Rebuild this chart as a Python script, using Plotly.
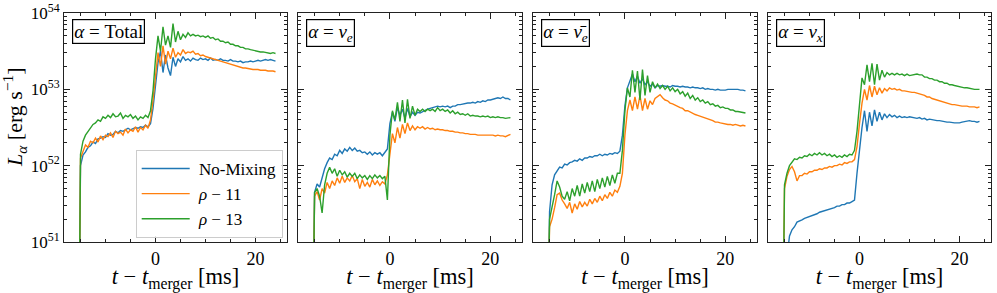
import plotly.graph_objects as go
from plotly.subplots import make_subplots

# time relative to merger [ms]
t_ms = [-16.3, -15.2, -15.0, -14.5, -14.0, -13.5, -13.0, -12.5, -12.0, -11.5, -11.0, -10.5, -10.0, -9.5,
        -9.0, -8.5, -8.0, -7.5, -7.0, -6.5, -6.0, -5.5, -5.0, -4.5, -4.0, -3.5, -3.0, -2.5, -2.0, -1.5,
        -1.0, -0.5, 0.0, 0.5, 1.0, 1.5, 2.0, 2.5, 3.0, 3.5, 4.0, 4.5, 5.0, 5.5, 6.0, 6.5, 7.0, 7.5,
        8.0, 8.5, 9.0, 9.5, 10.0, 10.5, 11.0, 11.5, 12.0, 12.5, 13.0, 13.5, 14.0, 14.5, 15.0, 15.5,
        16.0, 16.5, 17.0, 17.5, 18.0, 18.5, 19.0, 19.5, 20.0, 20.5, 21.0, 21.5, 22.0, 22.5, 23.0, 23.5, 24.0]

# log10 of luminosity [erg/s]
total_nomix = [50.0, 50.5, 52.0, 52.14, 52.18, 52.24, 52.26, 52.31, 52.29, 52.35, 52.36, 52.38, 52.37, 52.42,
               52.4, 52.41, 52.45, 52.43, 52.46, 52.45, 52.47, 52.49, 52.47, 52.48, 52.5, 52.49, 52.51, 52.5, 52.53, 52.51,
               52.55, 52.75, 53.1, 53.35, 53.5, 53.22, 53.45, 53.28, 53.18, 53.42, 53.3, 53.4, 53.36, 53.43, 53.38, 53.4, 53.37, 53.41,
               53.39, 53.38, 53.41, 53.39, 53.4, 53.38, 53.41, 53.38, 53.39, 53.38, 53.4, 53.38, 53.38, 53.37, 53.39, 53.37,
               53.37, 53.36, 53.37, 53.35, 53.36, 53.36, 53.37, 53.36, 53.37, 53.38, 53.37, 53.38, 53.39, 53.38, 53.39, 53.38, 53.37]
total_rho11 = [50.0, 50.5, 52.1, 52.2, 52.27, 52.24, 52.32, 52.3, 52.36, 52.31, 52.39, 52.34, 52.4, 52.38,
               52.43, 52.37, 52.45, 52.42, 52.44, 52.4, 52.48, 52.43, 52.47, 52.45, 52.51, 52.44, 52.5, 52.47, 52.53, 52.49,
               52.6, 52.85, 53.2, 53.48, 53.3, 53.57, 53.33, 53.5, 53.4, 53.54, 53.42, 53.48, 53.45, 53.52, 53.47, 53.49, 53.48, 53.5,
               53.46, 53.47, 53.44, 53.45, 53.43, 53.42, 53.42, 53.41, 53.39, 53.38, 53.37, 53.36, 53.35, 53.34, 53.32, 53.32,
               53.3, 53.3, 53.29, 53.28, 53.28, 53.27, 53.27, 53.26, 53.26, 53.26, 53.25, 53.25, 53.25, 53.24, 53.24, 53.24, 53.23]
total_rho13 = [50.0, 50.5, 52.15, 52.32, 52.4, 52.45, 52.5, 52.54, 52.56, 52.6, 52.58, 52.64, 52.62, 52.66,
               52.63, 52.68, 52.64, 52.65, 52.69, 52.62, 52.66, 52.64, 52.67, 52.62, 52.65, 52.6, 52.64, 52.62, 52.66, 52.63,
               52.72, 52.98, 53.4, 53.7, 53.5, 53.82, 53.58, 53.7, 53.55, 53.86, 53.62, 53.76, 53.65, 53.72, 53.68, 53.74, 53.7, 53.72,
               53.7, 53.71, 53.69, 53.7, 53.68, 53.7, 53.67, 53.68, 53.65, 53.66, 53.63, 53.63, 53.61, 53.62, 53.59, 53.59,
               53.57, 53.57, 53.55, 53.55, 53.53, 53.53, 53.52, 53.51, 53.5, 53.5, 53.49, 53.49, 53.48, 53.48, 53.47, 53.48, 53.47]

nue_nomix = [50.0, 50.5, 51.65, 51.76, 51.72, 51.84, 51.96, 52.04, 52.1, 52.08, 52.15, 52.13, 52.2, 52.16,
             52.22, 52.19, 52.24, 52.2, 52.23, 52.19, 52.2, 52.17, 52.18, 52.15, 52.18, 52.14, 52.17, 52.15, 52.17, 52.13,
             52.17, 52.22, 52.55, 52.7, 52.58, 52.76, 52.66, 52.74, 52.62, 52.75, 52.64, 52.7, 52.66, 52.7, 52.69, 52.71, 52.72, 52.74,
             52.75, 52.76, 52.77, 52.78, 52.77, 52.78, 52.77, 52.78, 52.76, 52.78, 52.78, 52.8, 52.8, 52.81, 52.81, 52.82,
             52.82, 52.83, 52.82, 52.84, 52.83, 52.85, 52.84, 52.86, 52.86, 52.87, 52.87, 52.89, 52.88, 52.9, 52.88, 52.88, 52.86]
nue_rho11 = [50.0, 50.5, 51.6, 51.66, 51.55, 51.7, 51.64, 51.78, 51.7, 51.8, 51.74, 51.84, 51.77, 51.86,
             51.78, 51.84, 51.8, 51.87, 51.79, 51.83, 51.7, 51.82, 51.73, 51.78, 51.72, 51.82, 51.75, 51.8, 51.74, 51.79,
             51.76, 51.88, 52.15, 52.42, 52.3, 52.5, 52.36, 52.54, 52.42, 52.56, 52.46, 52.52, 52.47, 52.51, 52.49, 52.51, 52.48, 52.5,
             52.48, 52.49, 52.47, 52.48, 52.47, 52.47, 52.46, 52.46, 52.45, 52.45, 52.44, 52.44, 52.43, 52.43, 52.42, 52.42,
             52.41, 52.41, 52.41, 52.4, 52.4, 52.4, 52.4, 52.4, 52.4, 52.4, 52.39, 52.4, 52.39, 52.39, 52.38, 52.39, 52.41]
nue_rho13 = [50.0, 50.5, 51.65, 51.7, 51.6, 51.38, 51.75, 51.9, 51.98, 51.9, 51.96, 51.86, 51.94, 51.88,
             51.92, 51.85, 51.9, 51.86, 51.9, 51.83, 51.88, 51.84, 51.87, 51.82, 51.87, 51.83, 51.88, 51.84, 51.87, 51.83,
             51.86, 51.55, 52.4, 52.72, 52.6, 52.83, 52.58, 52.86, 52.56, 52.87, 52.62, 52.78, 52.66, 52.74, 52.71, 52.74, 52.71, 52.74,
             52.72, 52.74, 52.71, 52.76, 52.72, 52.74, 52.71, 52.73, 52.69, 52.72, 52.68, 52.7, 52.67, 52.68, 52.66, 52.68,
             52.65, 52.66, 52.65, 52.65, 52.64, 52.65, 52.64, 52.65, 52.63, 52.64, 52.63, 52.64, 52.63, 52.63, 52.62, 52.63, 52.63]

nuebar_nomix = [50.0, 50.5, 51.4, 51.75, 51.88, 51.94, 51.98, 51.97, 52.02, 52.01, 52.04, 52.05, 52.07, 52.06,
                52.09, 52.07, 52.1, 52.1, 52.12, 52.11, 52.13, 52.13, 52.15, 52.13, 52.15, 52.14, 52.16, 52.15, 52.17, 52.16,
                52.19, 52.4, 52.78, 53.02, 53.12, 53.2, 53.1, 53.17, 53.08, 53.14, 53.06, 53.1, 53.04, 53.07, 53.02, 53.05, 53.04, 53.05,
                53.04, 53.04, 53.03, 53.05, 53.04, 53.04, 53.03, 53.04, 53.03, 53.03, 53.02, 53.03, 53.02, 53.02, 53.01, 53.02,
                53.0, 53.01, 53.0, 53.0, 52.99, 53.0, 52.99, 52.99, 52.99, 53.0, 53.0, 53.0, 53.0, 53.0, 52.99, 52.99, 52.98]
nuebar_rho11 = [50.0, 50.5, 51.2, 51.3, 51.45, 51.62, 51.64, 51.55, 51.5, 51.44, 51.52, 51.38, 51.5, 51.43,
                51.53, 51.46, 51.52, 51.47, 51.56, 51.5, 51.57, 51.52, 51.6, 51.54, 51.62, 51.57, 51.65, 51.6, 51.68, 51.65,
                51.73, 51.9, 52.4, 52.72, 52.86, 52.72, 52.9, 52.74, 52.92, 52.72, 52.88, 52.74, 52.85, 52.8, 52.88, 52.9, 52.93, 52.89,
                52.86, 52.85, 52.82, 52.81, 52.79, 52.78, 52.76, 52.75, 52.72, 52.72, 52.7, 52.69, 52.67, 52.66, 52.65, 52.63,
                52.62, 52.61, 52.6, 52.59, 52.57, 52.57, 52.56, 52.55, 52.55, 52.54, 52.54, 52.53, 52.54, 52.53, 52.52, 52.53, 52.52]
nuebar_rho13 = [50.0, 50.5, 51.3, 51.45, 51.62, 51.8, 51.72, 51.6, 51.56, 51.66, 51.54, 51.7, 51.6, 51.74,
                51.6, 51.76, 51.64, 51.78, 51.66, 51.8, 51.66, 51.82, 51.7, 51.84, 51.72, 51.86, 51.74, 51.88, 51.77, 51.9,
                51.9, 52.2, 52.72, 53.02, 52.9, 53.25, 52.96, 53.24, 52.86, 53.26, 52.92, 53.18, 52.96, 53.1, 53.02, 53.07, 53.01, 53.05,
                53.0, 53.04, 52.98, 53.02, 52.97, 53.0, 52.94, 52.97, 52.91, 52.95, 52.88, 52.92, 52.86, 52.89, 52.84, 52.86,
                52.82, 52.84, 52.8, 52.81, 52.78, 52.79, 52.76, 52.77, 52.75, 52.75, 52.73, 52.73, 52.71, 52.71, 52.7, 52.7, 52.69]

nux_nomix = [49.5, 50.0, 50.5, 50.8, 51.08, 51.16, 51.2, 51.26, 51.27, 51.29, 51.31, 51.32, 51.34, 51.35,
             51.36, 51.37, 51.39, 51.4, 51.41, 51.42, 51.43, 51.45, 51.45, 51.47, 51.47, 51.49, 51.49, 51.51, 51.51, 51.53,
             51.55, 51.9, 52.25, 52.5, 52.72, 52.45, 52.7, 52.52, 52.73, 52.58, 52.7, 52.6, 52.68, 52.63, 52.67, 52.64, 52.66, 52.63,
             52.65, 52.63, 52.64, 52.63, 52.64, 52.63, 52.63, 52.62, 52.63, 52.61, 52.62, 52.6, 52.61, 52.6, 52.6, 52.59,
             52.59, 52.58, 52.58, 52.57, 52.57, 52.56, 52.56, 52.56, 52.56, 52.57, 52.58, 52.58, 52.59, 52.58, 52.58, 52.57, 52.58]
nux_rho11 = [50.0, 50.5, 51.7, 51.86, 51.95, 51.99, 51.92, 51.8, 51.87, 51.87, 51.9, 51.89, 51.92, 51.92,
             51.94, 51.94, 51.96, 51.95, 51.97, 51.97, 51.99, 51.98, 52.0, 52.0, 52.02, 52.01, 52.04, 52.03, 52.05, 52.05,
             52.08, 52.25, 52.55, 52.82, 53.0, 52.86, 53.05, 52.9, 53.04, 52.93, 53.02, 52.95, 53.01, 52.98, 53.02, 53.0, 53.01, 52.99,
             53.0, 52.98, 52.98, 52.97, 52.97, 52.96, 52.96, 52.95, 52.95, 52.93, 52.92, 52.9, 52.9, 52.88, 52.87, 52.86,
             52.85, 52.84, 52.83, 52.82, 52.81, 52.8, 52.8, 52.79, 52.79, 52.78, 52.78, 52.78, 52.77, 52.77, 52.77, 52.76, 52.77]
nux_rho13 = [50.0, 50.5, 51.75, 51.9, 52.0, 52.05, 52.09, 52.08, 52.11, 52.1, 52.13, 52.12, 52.15, 52.13,
             52.16, 52.14, 52.17, 52.14, 52.16, 52.13, 52.15, 52.12, 52.14, 52.11, 52.13, 52.11, 52.14, 52.12, 52.15, 52.14,
             52.2, 52.45, 52.85, 53.15, 53.06, 53.32, 53.1, 53.34, 53.06, 53.33, 53.12, 53.25, 53.16, 53.22, 53.19, 53.21, 53.19, 53.21,
             53.19, 53.2, 53.18, 53.2, 53.18, 53.19, 53.19, 53.2, 53.19, 53.19, 53.16, 53.16, 53.14, 53.14, 53.12, 53.12,
             53.1, 53.1, 53.08, 53.08, 53.06, 53.06, 53.05, 53.04, 53.03, 53.03, 53.02, 53.02, 53.01, 53.01, 53.0, 53.0, 53.0]

series_names = ["\u00a0No-Mixing", "\u00a0<i>ρ</i> − 11", "\u00a0<i>ρ</i> − 13"]
series_colors = ["#1f77b4", "#ff7f0e", "#2ca02c"]
panel_labels = ["<i>α</i> = Total", "<i>α</i> = <i>ν</i><sub><i>e</i></sub>",
                "<i>α</i> = <i>ν̄</i><sub><i>e</i></sub>", "<i>α</i> = <i>ν</i><sub><i>x</i></sub>"]
panels = [
    [total_nomix, total_rho11, total_rho13],
    [nue_nomix, nue_rho11, nue_rho13],
    [nuebar_nomix, nuebar_rho11, nuebar_rho13],
    [nux_nomix, nux_rho11, nux_rho13],
]
y_ticks = [51, 52, 53, 54]
x_ticks = [0, 20]
y_title = "<i>L</i><sub><i>α</i></sub> [erg s<sup>−1</sup>]"
x_title = "<i>t</i> − <i>t</i><sub>merger</sub> [ms]"

FONT = "Liberation Serif, Times New Roman, serif"
W, H = 997, 293
ML, MR, MT, MB = 64, 6, 13, 51
plot_w = W - ML - MR
plot_h = H - MT - MB
px_dom = [(64, 287), (298, 522), (533, 757), (768, 991)]
domains = [((a - ML) / plot_w, (b - ML) / plot_w) for a, b in px_dom]

fig = make_subplots(rows=1, cols=4, shared_yaxes=False)

for p, series in enumerate(panels):
    for s, vals in enumerate(series):
        fig.add_trace(go.Scatter(
            x=t_ms, y=[10.0 ** v for v in vals], mode="lines",
            line=dict(color=series_colors[s], width=1.4),
            name=series_names[s], showlegend=(p == 0), legendgroup=str(s),
        ), row=1, col=p + 1)

minor_y = [m * 10.0 ** e for e in range(51, 54) for m in range(2, 10)]
for p in range(4):
    ax = "" if p == 0 else str(p + 1)
    fig.layout["xaxis" + ax].update(
        domain=list(domains[p]), range=[-18.3, 26.3], automargin=False,
        tickvals=x_ticks, ticktext=[str(v) for v in x_ticks],
        ticks="inside", ticklen=6, tickwidth=1, tickcolor="#222",
        minor=dict(ticks="inside", ticklen=3, dtick=5, tick0=0, tickcolor="#222", showgrid=False),
        showline=True, linecolor="#222", linewidth=1, mirror="allticks",
        showgrid=False, zeroline=False,
        tickfont=dict(family=FONT, size=18, color="black"),
        title=dict(text=x_title, font=dict(family=FONT, size=22.5, color="black")),
    )
    fig.layout["yaxis" + ax].update(
        type="log", range=[51, 54], automargin=False, ticklabeloverflow="allow",
        tickvals=[10.0 ** e for e in y_ticks],
        ticktext=["10<sup>%d</sup>" % e for e in y_ticks],
        showticklabels=(p == 0),
        ticks="inside", ticklen=6, tickwidth=1, tickcolor="#222",
        minor=dict(ticks="inside", ticklen=3, tickvals=minor_y, tickcolor="#222", showgrid=False),
        showline=True, linecolor="#222", linewidth=1, mirror="allticks",
        showgrid=False, zeroline=False,
        tickfont=dict(family=FONT, size=17, color="black"),
    )
    fig.add_annotation(
        text=panel_labels[p], xref=("x" + ax + " domain"), yref=("y" + ax + " domain"),
        x=0.035, y=0.975, xanchor="left", yanchor="top", showarrow=False,
        font=dict(family=FONT, size=19, color="black"),
        bordercolor="black", borderwidth=1.2, borderpad=1, bgcolor="white",
    )

# y-axis title placed as a rotated label left of the tick labels
fig.add_annotation(
    text=y_title, xref="paper", yref="paper",
    x=(15 - ML) / plot_w, y=1 - (117 - MT) / plot_h, xanchor="center", yanchor="middle",
    textangle=-90, showarrow=False, font=dict(family=FONT, size=22, color="black"),
)

fig.update_layout(
    width=W, height=H,
    margin=dict(l=ML, r=MR, t=MT, b=MB),
    paper_bgcolor="white", plot_bgcolor="white",
    font=dict(family=FONT, color="black"),
    legend=dict(
        x=(135.7 - ML) / plot_w, y=1 - (150 - MT) / plot_h,
        xanchor="left", yanchor="top",
        bgcolor="rgba(255,255,255,0.85)", bordercolor="#cccccc", borderwidth=1,
        font=dict(family=FONT, size=17, color="black"),
        traceorder="grouped", tracegroupgap=0, itemwidth=48,
    ),
)

# remove the default 8px page margin so the figure sits at the window's top-left corner
fig.write_html("out.html", config={"displayModeBar": False},
               post_script="document.body.style.margin='0px';document.body.style.overflow='hidden';")
